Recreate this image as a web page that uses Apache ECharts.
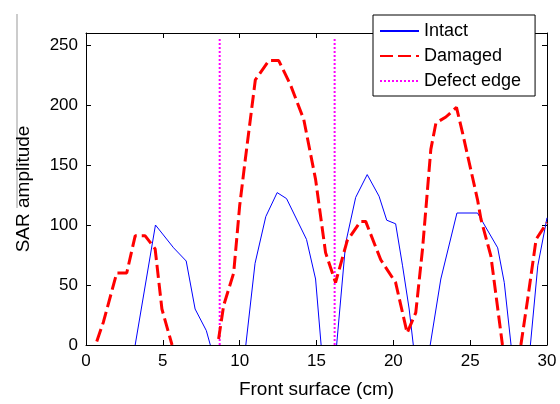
<!DOCTYPE html>
<html>
<head>
<meta charset="utf-8">
<script src="https://cdn.jsdelivr.net/npm/echarts@6/dist/echarts.min.js"></script>
<style>html,body{margin:0;padding:0;background:#fff;}#c{width:560px;height:404px;}</style>
</head>
<body>
<div id="c"></div>
<script>
// Data (null = gap, the curve lies on the axis there)
const intactX = [3.2, 4.52, 5.7, 6.52, 7.1, 7.83, 8.09, null, 10.4, 11.0, 11.7, 12.44, 13.05, 14.35, 14.94, 15.3, null, 16.31, 16.9, 17.55, 18.3, 19.07, 19.57, 20.15, 20.6, 21.03, 21.3, null, 22.4, 23.09, 24.14, 25.48, 26.79, 27.22, 27.66, null, 28.92, 29.4, 30];
const intactY = [0, 100, 81, 70, 30, 12, 0, null, 0, 68, 107, 127, 122, 88, 55, 0, null, 0, 85, 123, 142, 124, 104, 101, 66, 30, 0, null, 0, 55, 110, 110, 81, 52, 0, null, 0, 66, 106];
const damagedX = [0.7, 1.13, 2.0, 2.65, 3.2, 3.85, 4.5, 4.94, 5.6, null, 8.63, 8.96, 9.61, 10.0, 10.37, 11.02, 11.9, 12.54, 13.3, 14.17, 14.94, 15.59, 16.24, 17.0, 17.87, 18.2, 19.18, 20.15, 20.9, 21.46, 21.9, 22.44, 22.77, 23.42, 24.11, 24.5, 25.48, 25.7, 26.35, 27.0, 27.1, null, 28.3, 28.74, 29.29, 30];
const damagedY = [3, 19, 60, 60, 91, 91, 80, 30, 0, null, 5, 33, 60, 116, 155, 221, 237, 237, 217, 188, 138, 77, 52, 87, 103, 103, 71, 52, 10, 27, 80, 163, 185, 190, 198, 177, 121, 105, 74, 10, 0, null, 0, 38, 88, 102];
const edgeX = [8.7, 16.18];
const edgeTop = 255;
const xTicks = [0, 5, 10, 15, 20, 25, 30];
const yTicks = [0, 50, 100, 150, 200, 250];

function pairs(xs, ys) {
  return xs.map((x, i) => (x === null || ys[i] === null) ? ['-', '-'] : [x, ys[i]]);
}
const edgeData = [];
edgeX.forEach((x, i) => {
  if (i > 0) edgeData.push(['-', '-']);
  edgeData.push([x, 0], [x, edgeTop]);
});

const font = 'Liberation Sans, Arial, sans-serif';
const chart = echarts.init(document.getElementById('c'), null, {renderer: 'canvas'});
const baseAxisX = {
  type: 'value', min: 0, max: 30, interval: 5,
  axisLine: {show: true, onZero: false, lineStyle: {color: '#000', width: 1}},
  axisTick: {show: true, inside: true, length: 5, lineStyle: {color: '#000'}, customValues: xTicks},
  splitLine: {show: false}
};
const baseAxisY = {
  type: 'value', min: 0, max: 260, interval: 50,
  axisLine: {show: true, onZero: false, lineStyle: {color: '#000', width: 1}},
  axisTick: {show: true, inside: true, length: 5, lineStyle: {color: '#000'}, customValues: yTicks},
  splitLine: {show: false}
};
chart.setOption({
  animation: false,
  backgroundColor: '#fff',
  textStyle: {fontFamily: font},
  grid: {left: 86, right: 13, top: 33, bottom: 58, show: false},
  graphic: [{type: 'line', shape: {x1: 17, y1: 14, x2: 17, y2: 208}, style: {stroke: '#999', lineWidth: 1}}],
  legend: {
    orient: 'vertical', left: 373, top: 15, z: 10,
    backgroundColor: '#fff', borderColor: '#000', borderWidth: 1, borderRadius: 0,
    padding: [7, 14, 6, 6], itemWidth: 39, itemHeight: 14, itemGap: 7,
    itemStyle: {opacity: 0, color: 'transparent', borderWidth: 0},
    textStyle: {fontSize: 18, color: '#000', fontFamily: font},
    data: ['Intact', 'Damaged', 'Defect edge']
  },
  xAxis: [
    Object.assign({}, baseAxisX, {
      position: 'bottom',
      name: 'Front surface (cm)', nameLocation: 'middle', nameGap: 35,
      nameTextStyle: {fontSize: 19, color: '#000', fontFamily: font},
      axisLabel: {fontSize: 17, color: '#000', margin: 8, fontFamily: font, customValues: xTicks}
    }),
    Object.assign({}, baseAxisX, {position: 'top', axisLabel: {show: false}})
  ],
  yAxis: [
    Object.assign({}, baseAxisY, {
      position: 'left',
      name: 'SAR amplitude', nameLocation: 'middle', nameGap: 53,
      nameTextStyle: {fontSize: 19, color: '#000', fontFamily: font},
      axisLabel: {fontSize: 17, color: '#000', margin: 8, fontFamily: font, customValues: yTicks}
    }),
    Object.assign({}, baseAxisY, {position: 'right', axisLabel: {show: false}})
  ],
  series: [
    {name: 'Intact', type: 'line', data: pairs(intactX, intactY), showSymbol: false, symbol: 'none',
      lineStyle: {color: '#0000ff', width: 1}, itemStyle: {color: '#0000ff'}, connectNulls: false, z: 3},
    {name: 'Damaged', type: 'line', data: pairs(damagedX, damagedY), showSymbol: false, symbol: 'none',
      lineStyle: {color: '#ff0000', width: 3, type: [13, 5]}, itemStyle: {color: '#ff0000'}, connectNulls: false, z: 4},
    {name: 'Defect edge', type: 'line', data: edgeData, showSymbol: false, symbol: 'none',
      lineStyle: {color: '#ff00ff', width: 2, type: [2, 2]}, itemStyle: {color: '#ff00ff'}, connectNulls: false, z: 2}
  ]
});
</script>
</body>
</html>
